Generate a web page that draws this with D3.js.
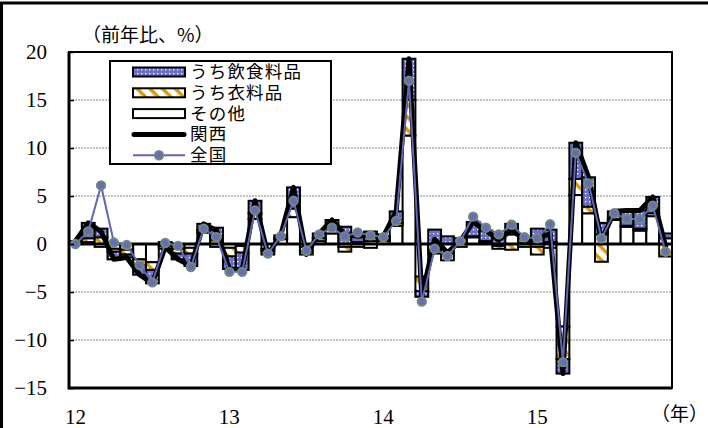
<!DOCTYPE html>
<html>
<head>
<meta charset="utf-8">
<script src="https://cdn.jsdelivr.net/npm/d3@7"></script>
<style>
body { margin:0; background:#fff; }
svg text { fill:#000; }
</style>
</head>
<body>
<svg width="708" height="428"></svg>
<script>
// months Jan 2012 - Nov 2015
var months = d3.range(47);
var yearTicks = [0, 12, 24, 36];
var yearLabels = ["12", "13", "14", "15"];
var yTicks = [-15, -10, -5, 0, 5, 10, 15, 20];

// contributions (pt)
var food = [0.1, 1.6, 0.9, -0.8, -0.3, -1.0, -1.4, -0.3, -0.6, -1.3, 0.6, 1.3,
	-1.3, -1.8, 1.3, -0.4, 0.3, 2.2, -0.3, 0.5, 1.0, 1.8, 0.9, 1.0,
	0.4, 1.2, 4.3, -0.6, 1.5, 0.8, 0.5, 1.5, 1.1, 0.9, 1.1, 0.6,
	1.6, 1.3, -1.5, 3.75, 3.05, 1.2, 0.8, 1.6, 1.9, 1.7, 0.5];
var clothing = [0.1, 0.4, 0.7, -0.3, -0.5, -0.6, -0.8, -0.2, -0.5, -0.6, 0.3, 0.4,
	-0.9, -0.7, 0.6, -0.2, 0.1, 0.9, -0.5, 0.3, 0.4, -0.5, 0.2, 0.3,
	0.1, 0.3, 3.7, -1.5, -0.4, -0.7, 0.1, 0.1, 0.1, -0.3, -0.6, 0.1,
	-0.8, 0.2, -3.4, 1.7, 0.7, -1.85, 0.1, 0.1, 0.2, 0.3, -1.3];
var other = [0.1, 0.2, -0.3, -0.5, -0.6, -1.6, -1.9, 0.2, -0.5, -0.4, 1.2, -0.3,
	-0.4, -0.2, 2.6, -0.5, 0.5, 2.8, -0.3, 0.3, 1.1, -0.3, -0.3, -0.4,
	0.3, 1.9, 11.3, -3.4, -0.6, -1.0, -0.3, 0.7, 0.2, -0.2, 1.0, -0.3,
	-0.3, -0.4, -8.6, 5.1, 3.2, 1.0, 2.5, 1.8, 1.4, 2.9, 0.6];
var kansai = [0.3, 2.2, 1.3, -1.6, -1.4, -3.2, -4.1, -0.3, -1.6, -2.3, 2.1, 1.4,
	-2.6, -2.7, 4.5, -1.1, 0.9, 5.9, -1.1, 1.1, 2.5, 1.0, 0.8, 0.9,
	0.8, 3.4, 19.3, -5.5, 0.5, -0.9, 0.3, 2.3, 1.4, 0.4, 1.5, 0.4,
	0.5, 1.1, -13.5, 10.55, 6.95, 0.35, 3.4, 3.5, 3.5, 4.9, -0.2];
var zenkoku = [0.0, 1.3, 6.1, 0.15, -0.1, -2.2, -4.0, 0.1, -0.2, -2.4, 1.6, 0.7,
	-2.9, -2.9, 3.5, -1.0, 0.8, 4.5, -0.7, 1.0, 1.7, 0.8, 1.2, 0.9,
	0.7, 2.4, 17.0, -6.0, -0.5, -1.25, 0.3, 2.85, 1.7, 1.0, 2.0, 0.7,
	0.6, 2.05, -12.3, 9.5, 6.3, 0.6, 3.2, 2.6, 2.6, 4.0, -0.8];

var svg = d3.select("svg");
var pLeft = 69, pRight = 672, pTop = 52, pBottom = 388;

var x = d3.scaleBand().domain(months).range([pLeft, pRight]).padding(0);
var y = d3.scaleLinear().domain([-15, 20]).range([pBottom, pTop]);

var serif = "'Liberation Serif', 'Times New Roman', serif";
var jp = "'Noto Sans CJK JP', sans-serif";

// patterns
var defs = svg.append("defs");
var pf = defs.append("pattern").attr("id", "pFood").attr("patternUnits", "userSpaceOnUse")
	.attr("width", 4).attr("height", 4);
pf.append("rect").attr("width", 4).attr("height", 4).attr("fill", "#6b6fc6");
pf.append("rect").attr("x", 1).attr("y", 1).attr("width", 1.3).attr("height", 1.3).attr("fill", "#fff");

var pc = defs.append("pattern").attr("id", "pCloth").attr("patternUnits", "userSpaceOnUse")
	.attr("width", 9).attr("height", 9).attr("patternTransform", "rotate(45)");
pc.append("rect").attr("width", 9).attr("height", 9).attr("fill", "#fff");
pc.append("rect").attr("width", 9).attr("height", 3.5).attr("fill", "#dc9c00");

var fills = { other: "#fff", clothing: "url(#pCloth)", food: "url(#pFood)" };

// outer frame
svg.append("rect").attr("x", 1.5).attr("y", 3).attr("width", 712).attr("height", 440)
	.attr("fill", "none").attr("stroke", "#000").attr("stroke-width", 3);

// grid
svg.append("g").selectAll("line")
	.data(yTicks.filter(function(d) { return d != 0 && d != 20 && d != -15; }))
	.enter().append("line")
	.attr("x1", pLeft).attr("x2", pRight)
	.attr("y1", function(d) { return y(d); }).attr("y2", function(d) { return y(d); })
	.attr("stroke", "#888").attr("stroke-width", 1).attr("stroke-dasharray", "2,1");

// stacked bars
var table = months.map(function(i) {
	return { i: i, other: other[i], clothing: clothing[i], food: food[i] };
});
var series = d3.stack().keys(["other", "clothing", "food"])
	.offset(d3.stackOffsetDiverging)(table);

svg.append("g").selectAll("g").data(series).enter().append("g")
	.attr("fill", function(d) { return fills[d.key]; })
	.selectAll("rect").data(function(d) { return d; }).enter().append("rect")
	.attr("x", function(d) { return x(d.data.i); })
	.attr("width", x.bandwidth())
	.attr("y", function(d) { return y(Math.max(d[0], d[1])); })
	.attr("height", function(d) { return Math.abs(y(d[0]) - y(d[1])); })
	.attr("stroke", "#000").attr("stroke-width", 2);

// zero line
svg.append("line").attr("x1", pLeft).attr("x2", pRight).attr("y1", y(0)).attr("y2", y(0))
	.attr("stroke", "#000").attr("stroke-width", 3);

// plot frame
svg.append("rect").attr("x", pLeft).attr("y", pTop).attr("width", pRight - pLeft).attr("height", pBottom - pTop)
	.attr("fill", "none").attr("stroke", "#000").attr("stroke-width", 2);
svg.append("line").attr("x1", pLeft).attr("x2", pLeft).attr("y1", pTop).attr("y2", pBottom + 1.5)
	.attr("stroke", "#000").attr("stroke-width", 3);
svg.append("line").attr("x1", pLeft).attr("x2", pRight).attr("y1", pBottom).attr("y2", pBottom)
	.attr("stroke", "#000").attr("stroke-width", 3);

// lines
var cx = function(d, i) { return x(i) + x.bandwidth() / 2; };
var line = d3.line().x(cx).y(function(d) { return y(d); });

svg.append("path").datum(kansai).attr("d", line)
	.attr("fill", "none").attr("stroke", "#000").attr("stroke-width", 5)
	.attr("stroke-linejoin", "round").attr("stroke-linecap", "round");

svg.append("path").datum(zenkoku).attr("d", line)
	.attr("fill", "none").attr("stroke", "#6065b4").attr("stroke-width", 2);

svg.append("g").selectAll("circle").data(zenkoku).enter().append("circle")
	.attr("cx", cx).attr("cy", function(d) { return y(d); }).attr("r", 4.2)
	.attr("fill", "#676cb8").attr("stroke", "#6e8c7a").attr("stroke-width", 2);

// axes
var yAxis = svg.append("g").attr("transform", "translate(" + pLeft + ",0)")
	.call(d3.axisLeft(y).tickValues(yTicks).tickSize(-5).tickPadding(22));
yAxis.select(".domain").remove();
yAxis.selectAll("line").attr("stroke", "#000").attr("stroke-width", 1.5);
yAxis.selectAll("text").attr("font-family", serif).attr("font-size", 21).attr("fill", "#000");

var xAxis = svg.append("g").attr("transform", "translate(0," + pBottom + ")")
	.call(d3.axisBottom(x).tickValues(yearTicks).tickSize(0).tickPadding(21)
		.tickFormat(function(d) { return yearLabels[yearTicks.indexOf(d)]; }));
xAxis.select(".domain").remove();
xAxis.selectAll("text").attr("font-family", serif).attr("font-size", 21).attr("fill", "#000");

svg.append("text").attr("x", 82).attr("y", 42).attr("font-family", jp).attr("font-size", 19)
	.text("（前年比、%）");
svg.append("text").attr("x", 708).attr("y", 421).attr("text-anchor", "end")
	.attr("font-family", jp).attr("font-size", 19).text("（年）");

// legend
var lg = svg.append("g");
lg.append("rect").attr("x", 110).attr("y", 61).attr("width", 221).attr("height", 103)
	.attr("fill", "#fff").attr("stroke", "#000").attr("stroke-width", 2);

var legendItems = [
	{ name: "うち飲食料品", type: "bar", fill: fills.food },
	{ name: "うち衣料品", type: "bar", fill: fills.clothing },
	{ name: "その他", type: "bar", fill: fills.other },
	{ name: "関西", type: "kansai" },
	{ name: "全国", type: "zenkoku" }
];
legendItems.forEach(function(d, i) {
	var cy = 72 + i * 20.8;
	if (d.type == "bar") {
		lg.append("rect").attr("x", 133).attr("y", cy - 4.5).attr("width", 52).attr("height", 9)
			.attr("fill", d.fill).attr("stroke", "#000").attr("stroke-width", 2);
	} else if (d.type == "kansai") {
		lg.append("line").attr("x1", 134).attr("x2", 184).attr("y1", cy).attr("y2", cy)
			.attr("stroke", "#000").attr("stroke-width", 5).attr("stroke-linecap", "round");
	} else {
		lg.append("line").attr("x1", 133).attr("x2", 185).attr("y1", cy).attr("y2", cy)
			.attr("stroke", "#6065b4").attr("stroke-width", 2);
		lg.append("circle").attr("cx", 159).attr("cy", cy).attr("r", 4.2)
			.attr("fill", "#676cb8").attr("stroke", "#6e8c7a").attr("stroke-width", 2);
	}
	lg.append("text").attr("x", 190).attr("y", cy + 6).attr("font-family", jp)
		.attr("font-size", 17.5).attr("letter-spacing", 1.2).text(d.name);
});
</script>
</body>
</html>
